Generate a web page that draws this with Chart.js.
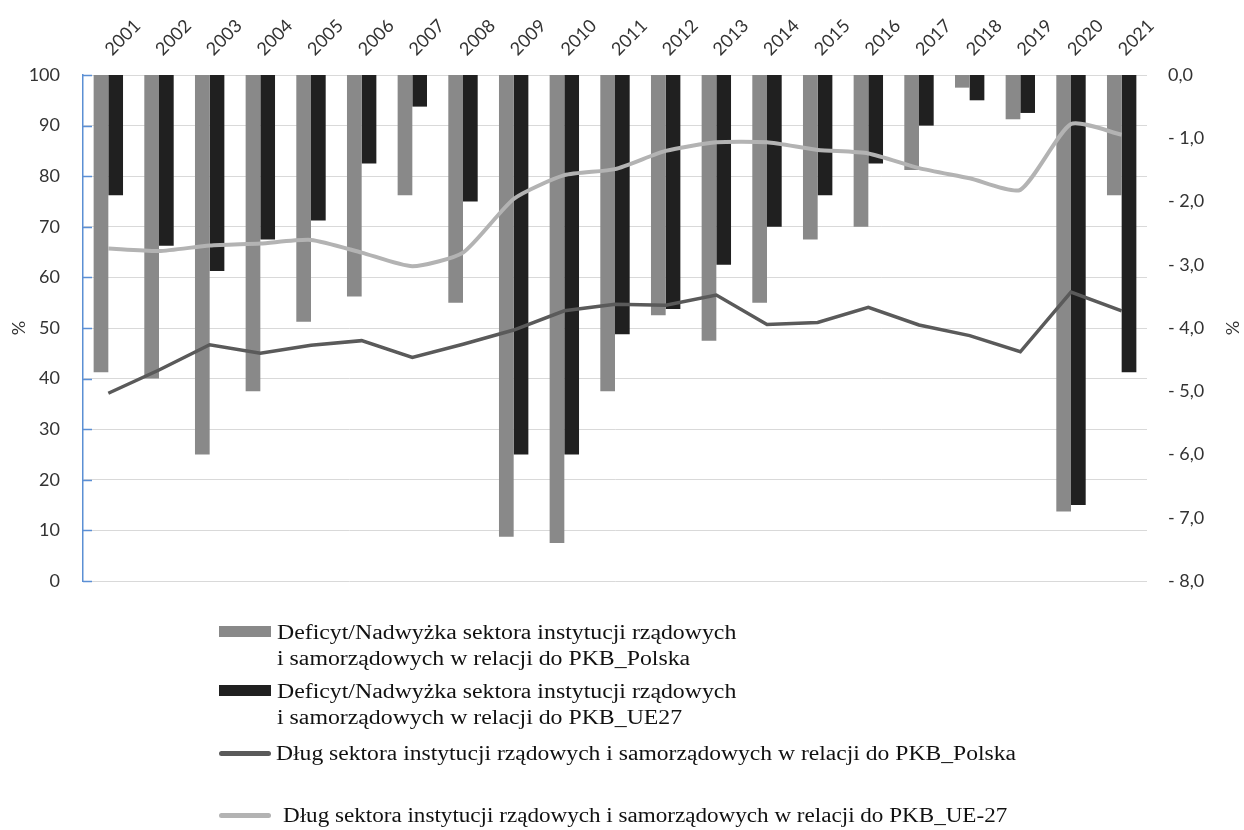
<!DOCTYPE html>
<html lang="pl">
<head>
<meta charset="utf-8">
<script src="https://cdn.jsdelivr.net/npm/chart.js@4.4.1/dist/chart.umd.min.js"></script>
<style>
  html, body { margin: 0; padding: 0; background: #fff; }
  #wrap { position: relative; width: 1244px; height: 830px; }
  #chart { position: absolute; left: 0; top: 0; }
  .leg { position: absolute; font-family: "Liberation Serif", "Times New Roman", serif; font-size: 20px; color: #111; line-height: 26px; white-space: nowrap; transform-origin: left top; }
  .sw { position: absolute; }
</style>
</head>
<body>
<div id="wrap">
  <canvas id="chart" width="1244" height="830"></canvas>
  <div id="legend"></div>
</div>
<script>
const years = ["2001", "2002", "2003", "2004", "2005", "2006", "2007", "2008", "2009", "2010",
  "2011", "2012", "2013", "2014", "2015", "2016", "2017", "2018", "2019", "2020", "2021"];

// deficit / surplus, % of GDP (right axis)
const deficitPL = [-4.7, -4.8, -6.0, -5.0, -3.9, -3.5, -1.9, -3.6, -7.3, -7.4,
  -5.0, -3.8, -4.2, -3.6, -2.6, -2.4, -1.5, -0.2, -0.7, -6.9, -1.9];
const deficitEU = [-1.9, -2.7, -3.1, -2.6, -2.3, -1.4, -0.5, -2.0, -6.0, -6.0,
  -4.1, -3.7, -3.0, -2.4, -1.9, -1.4, -0.8, -0.4, -0.6, -6.8, -4.7];

// debt, % of GDP (left axis)
const debtPL = [37.1, 41.7, 46.7, 45.0, 46.6, 47.5, 44.2, 46.8, 49.6, 53.4,
  54.7, 54.5, 56.5, 50.7, 51.1, 54.1, 50.6, 48.5, 45.3, 57.1, 53.4];
const debtEU = [65.7, 65.2, 66.3, 66.7, 67.4, 64.9, 62.2, 64.9, 75.5, 80.2,
  81.4, 85.0, 86.7, 86.7, 85.2, 84.5, 81.6, 79.6, 77.3, 90.3, 88.2];

const labels = [
  ["Deficyt/Nadwyżka sektora instytucji rządowych", "i samorządowych w relacji do PKB_Polska"],
  ["Deficyt/Nadwyżka sektora instytucji rządowych", "i samorządowych w relacji do PKB_UE27"],
  ["Dług sektora instytucji rządowych i samorządowych w relacji do PKB_Polska"],
  ["Dług sektora instytucji rządowych i samorządowych w relacji do PKB_UE-27"],
];

const colors = ["#898989", "#202020", "#5a5a5a", "#b3b3b3"];
const tickFont = { family: "Lato", size: 18 };
const tickColor = "#333333";

const fmtRight = (v) => (v === 0 ? "0,0" : "- " + Math.abs(v).toFixed(1).replace(".", ","));

// blue tick marks pointing inwards from the left axis
const innerTicks = {
  id: "innerTicks",
  afterDraw(chart) {
    const s = chart.scales.y;
    const c = chart.ctx;
    c.save();
    c.strokeStyle = "#5b8fd4";
    c.lineWidth = 1.5;
    s.ticks.forEach((t) => {
      const y = Math.round(s.getPixelForValue(t.value)) + 0.5;
      c.beginPath();
      c.moveTo(s.right, y);
      c.lineTo(s.right + 9, y);
      c.stroke();
    });
    c.restore();
  },
};

new Chart(document.getElementById("chart"), {
  data: {
    labels: years,
    datasets: [
      { type: "bar", label: labels[0].join(" "), data: deficitPL, yAxisID: "y2",
        backgroundColor: colors[0], categoryPercentage: 0.58, barPercentage: 1.0, order: 2 },
      { type: "bar", label: labels[1].join(" "), data: deficitEU, yAxisID: "y2",
        backgroundColor: colors[1], categoryPercentage: 0.58, barPercentage: 1.0, order: 2 },
      { type: "line", label: labels[2][0], data: debtPL, yAxisID: "y",
        borderColor: colors[2], borderWidth: 3.5, pointRadius: 0, tension: 0, order: 1 },
      { type: "line", label: labels[3][0], data: debtEU, yAxisID: "y",
        borderColor: colors[3], borderWidth: 4, pointRadius: 0, tension: 0.2, order: 0 },
    ],
  },
  options: {
    responsive: false,
    animation: false,
    devicePixelRatio: 1,
    layout: { padding: { top: 0, right: 0, bottom: 249, left: 0 } },
    plugins: {
      legend: { display: false },
      tooltip: { enabled: false },
    },
    scales: {
      x: {
        position: "top",
        grid: { display: false },
        border: { display: false },
        ticks: { font: tickFont, color: tickColor, minRotation: 45, maxRotation: 45, padding: 7, labelOffset: 15 },
        afterFit: (s) => { s.height = 75; },
      },
      y: {
        position: "left",
        min: 0,
        max: 100,
        ticks: { stepSize: 10, font: tickFont, color: tickColor, padding: 23 },
        grid: { color: "#d9d9d9", drawTicks: false },
        border: { color: "#5b8fd4", width: 1.5 },
        title: { display: true, text: "%", font: tickFont, color: tickColor, padding: { top: 8, bottom: 0 } },
        afterFit: (s) => { s.width = 83; },
      },
      y2: {
        position: "right",
        min: -8,
        max: 0,
        ticks: { stepSize: 1, font: tickFont, color: tickColor, padding: 13, callback: fmtRight },
        grid: { display: false },
        border: { display: false },
        title: { display: true, text: "%", font: tickFont, color: tickColor, padding: { top: 1, bottom: 1 } },
        afterFit: (s) => { s.width = 97; },
      },
    },
  },
  plugins: [innerTicks],
});

// legend below the chart
const legendRows = [
  { kind: "box", top: 619, textLeft: 277, stretch: 1.19 },
  { kind: "box", top: 678, textLeft: 277, stretch: 1.19 },
  { kind: "line", top: 740, textLeft: 276, stretch: 1.18 },
  { kind: "line", top: 802, textLeft: 283, stretch: 1.155 },
];
const legend = document.getElementById("legend");
legendRows.forEach((r, i) => {
  const sw = document.createElement("div");
  sw.className = "sw";
  sw.style.left = "219px";
  sw.style.width = "52px";
  sw.style.background = colors[i];
  if (r.kind === "box") {
    sw.style.top = (r.top + 7) + "px";
    sw.style.height = "11px";
  } else {
    sw.style.top = (r.top + 11) + "px";
    sw.style.height = "5px";
    sw.style.borderRadius = "3px";
  }
  legend.appendChild(sw);
  const tx = document.createElement("div");
  tx.className = "leg";
  tx.style.left = r.textLeft + "px";
  tx.style.top = r.top + "px";
  tx.style.transform = "scaleX(" + r.stretch + ")";
  tx.innerHTML = labels[i].join("<br>");
  legend.appendChild(tx);
});
</script>
</body>
</html>
